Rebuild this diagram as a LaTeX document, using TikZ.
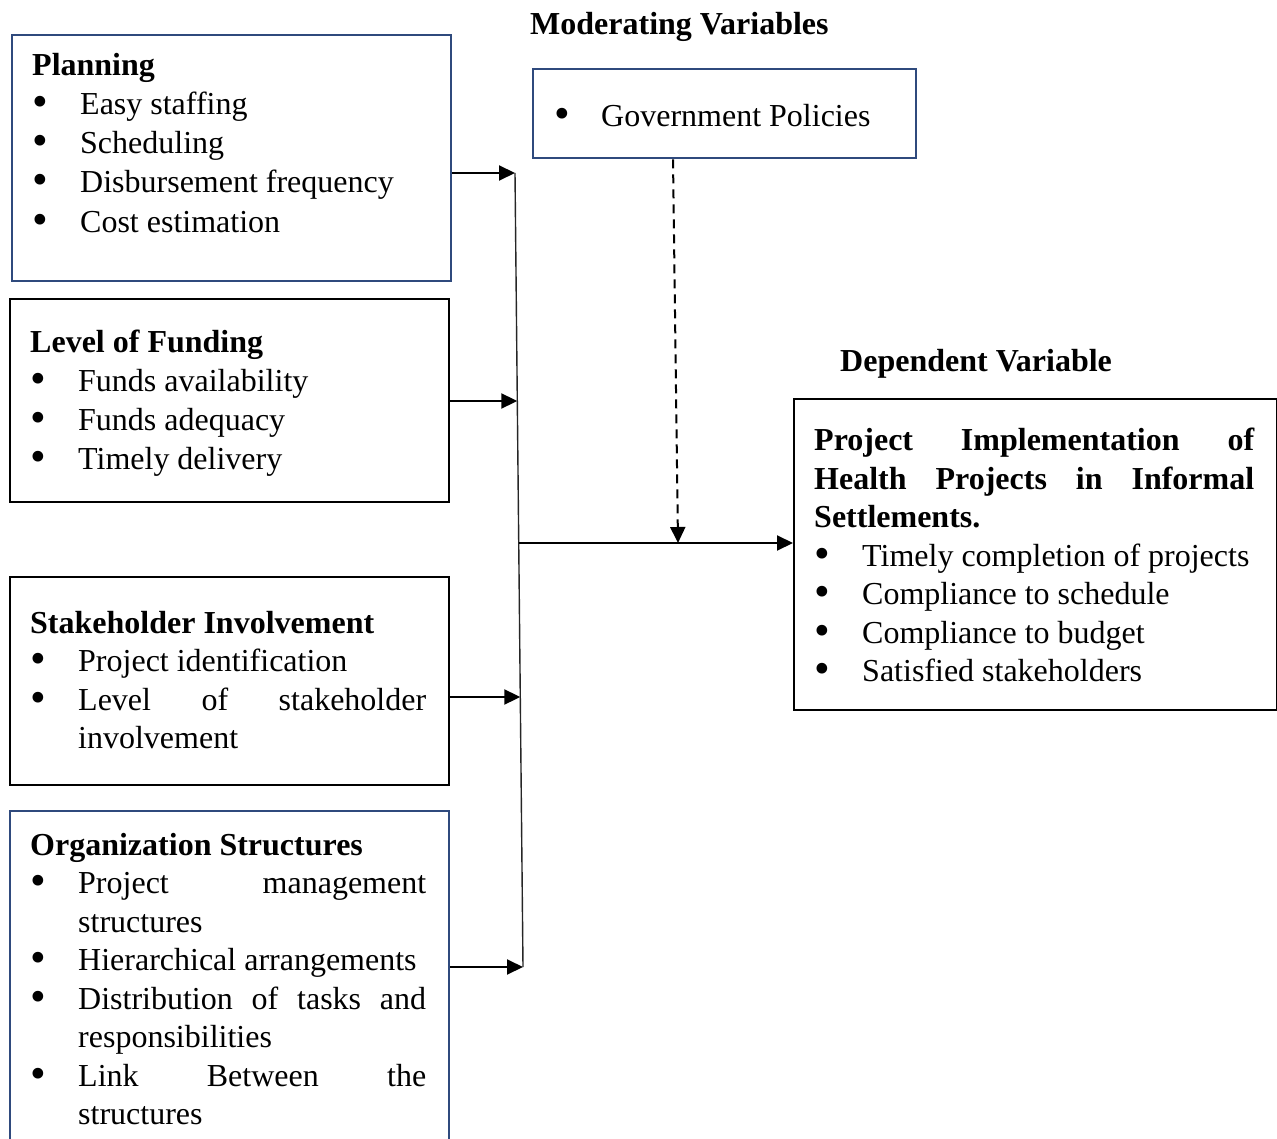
\documentclass[tikz,border=0pt]{standalone}
\usepackage{fontspec}
\usepackage{graphicx}
\setmainfont{Liberation Serif}
\usetikzlibrary{arrows.meta,calc}
\definecolor{boxblue}{RGB}{47,74,125}
\newcommand{\bodysize}{\fontsize{32}{38.5}\selectfont\spaceskip=8pt plus 32pt minus 2pt\relax}
\newcommand{\widesize}{\fontsize{32}{39.2}\selectfont\spaceskip=8pt plus 32pt minus 2pt\relax}
\newcommand{\bigbullet}{\raisebox{-2pt}{\scalebox{1.4}{\textbullet}}}
\newcommand{\bitem}[1]{\par\noindent\hangindent=48pt\hangafter=1\makebox[48pt][l]{\bigbullet}#1\par}
\tolerance=10000
\hyphenpenalty=10000
\begin{document}
\begin{tikzpicture}[x=1pt, y=-1pt,
        box/.style={draw, line width=2.4pt, inner sep=0pt, anchor=north west},
        bluebox/.style={box, draw=boxblue},
        txt/.style={anchor=north west, inner sep=0pt, text width=396pt, align=justify, font=\bodysize},
        wide/.style={font=\widesize},
        title/.style={anchor=base west, inner sep=0pt, font=\bodysize\bfseries},
        link/.style={line width=1.4pt, black!85},
        arr/.style={line width=2pt, -{Triangle[length=16pt,width=15pt]}}
    ]
    \useasboundingbox (0,0) rectangle (1277,1139);
    \clip (0,0) rectangle (1277,1139);

    % Titoli
    \node[title] (modt) at (530,35) {Moderating Variables};
    \node[title] (dept) at (840,372) {Dependent Variable};

    % Riquadri
    \node[bluebox, minimum width=439pt, minimum height=246pt] (plan) at (11,34) {};
    \node[box, minimum width=439pt, minimum height=203pt] (fund) at (9,298) {};
    \node[box, minimum width=439pt, minimum height=208pt] (stake) at (9,576) {};
    \node[bluebox, minimum width=439pt, minimum height=360pt] (org) at (9,810) {};
    \node[bluebox, minimum width=383pt, minimum height=89pt] (gov) at (532,68) {};
    \node[box, minimum width=483pt, minimum height=311pt] (dep) at (793,398) {};

    % Testi
    \node[txt, wide] (plant) at (32,47.6) {\strut\textbf{Planning}
        \bitem{Easy staffing}
        \bitem{Scheduling}
        \bitem{Disbursement frequency}
        \bitem{Cost estimation}};
    \node[txt, wide] (fundt) at (30,324.6) {\strut\textbf{Level of Funding}
        \bitem{Funds availability}
        \bitem{Funds adequacy}
        \bitem{Timely delivery}};
    \node[txt] (staket) at (30,606.2) {\strut\textbf{Stakeholder Involvement}
        \bitem{Project identification}
        \bitem{Level of stakeholder involvement}};
    \node[txt] (orgt) at (30,828.2) {\strut\textbf{Organization Structures}
        \bitem{Project management structures}
        \bitem{Hierarchical arrangements}
        \bitem{Distribution of tasks and responsibilities}
        \bitem{Link Between the structures}};
    \node[anchor=base west, inner sep=0pt, font=\bodysize] (govt) at (554,127)
        {\makebox[47pt][l]{\bigbullet}Government Policies};
    \node[txt, text width=440pt] (dept2) at (814,423.5) {\strut\textbf{Project Implementation of Health Projects in Informal Settlements.}
        \bitem{Timely completion of projects}
        \bitem{Compliance to schedule}
        \bitem{Compliance to budget}
        \bitem{Satisfied stakeholders}};

    % Linea di raccolta
    \coordinate (jtop) at (515,173);
    \coordinate (jbot) at (523,967);
    \coordinate (jfund) at (517.3,401);
    \coordinate (jstake) at (520.3,697);
    \coordinate (jmid) at (518.7,543);
    \coordinate (gtail) at (673,157);
    \coordinate (ghit) at (678,543);
    \draw[link] (jtop) -- (jbot);

    % Frecce
    \draw[arr] (plan.east |- jtop) -- (jtop);
    \draw[arr] (fund.east |- jfund) -- (jfund);
    \draw[arr] (stake.east |- jstake) -- (jstake);
    \draw[arr] (org.east |- jbot) -- (jbot);
    \draw[arr] (jmid) -- (dep.west |- jmid);
    \draw[arr, dash pattern=on 9pt off 6pt] (gov.south -| gtail) -- (ghit);
\end{tikzpicture}
\end{document}
